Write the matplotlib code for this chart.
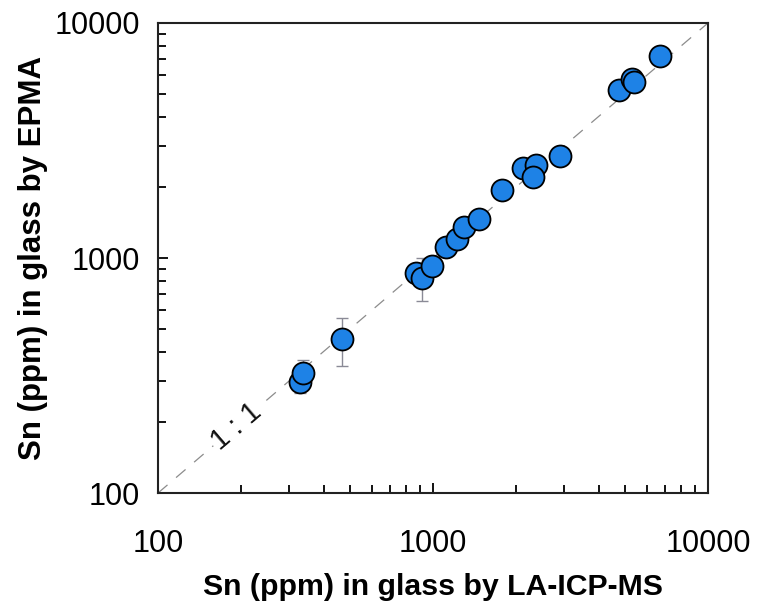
import numpy as np
import matplotlib
matplotlib.use("Agg")
import matplotlib.pyplot as plt

plt.rcParams["font.family"] = ["Liberation Sans", "DejaVu Sans"]

# Sn (ppm) by LA-ICP-MS (x) vs EPMA (y)
sn_la = [328, 337, 467, 867, 910, 989, 1115, 1225, 1297, 1473, 1777,
         2119, 2371, 2317, 2897, 4755, 5279, 5383, 6712]
sn_epma = [297, 324, 452, 861, 826, 925, 1117, 1205, 1352, 1462, 1946,
           2408, 2478, 2218, 2716, 5188, 5755, 5594, 7241]
# lower / upper EPMA error (ppm), 0 where no bar is visible
err_lo = [31, 0, 105, 60, 168, 0, 0, 0, 0, 0, 0, 0, 0, 0, 0, 0, 0, 0, 0]
err_hi = [0, 44, 103, 60, 174, 0, 0, 0, 0, 0, 0, 0, 0, 0, 0, 0, 0, 0, 0]

fig = plt.figure(figsize=(7.6, 6.05), dpi=100)
ax = fig.add_axes([0.2079, 0.1851, 0.7237, 0.7769])

# 1:1 reference line
ax.plot([100, 10000], [100, 10000], color="#8c8c8c", lw=0.9,
        dashes=(10, 9), zorder=1)

ax.errorbar(sn_la, sn_epma, yerr=[err_lo, err_hi], fmt="none",
            ecolor="#8a8a96", elinewidth=1.0, capsize=4, capthick=1.0,
            zorder=2)
ax.scatter(sn_la, sn_epma, s=250, c="#1E82E6", edgecolors="black",
           linewidths=1.3, zorder=3)

ax.set_xscale("log")
ax.set_yscale("log")
ax.set_xlim(100, 10000)
ax.set_ylim(100, 10000)

ax.set_xticks([100, 1000, 10000])
ax.set_yticks([100, 1000, 10000])
ax.set_xticklabels(["100", "1000", "10000"])
ax.set_yticklabels(["100", "1000", "10000"])
ax.tick_params(which="both", direction="in", top=False, right=False,
               width=1.3, labelsize=22)
ax.tick_params(which="major", length=7)
ax.tick_params(which="minor", length=6)
ax.tick_params(axis="x", which="major", pad=26)
ax.tick_params(axis="y", which="major", pad=13)
ax.xaxis.set_minor_formatter(matplotlib.ticker.NullFormatter())
ax.yaxis.set_minor_formatter(matplotlib.ticker.NullFormatter())
for sp in ax.spines.values():
    sp.set_linewidth(1.5)
    sp.set_color("#222222")

# rotate "1 : 1" along the diagonal in display space
p0 = ax.transData.transform((100, 100))
p1 = ax.transData.transform((10000, 10000))
ang = np.degrees(np.arctan2(p1[1] - p0[1], p1[0] - p0[0]))
ax.text(192, 192, "1 : 1", rotation=ang, rotation_mode="anchor",
        ha="center", va="center", fontsize=21, color="#111111",
        bbox=dict(fc="white", ec="none", pad=1), zorder=2)

ax.set_xlabel("Sn (ppm) in glass by LA-ICP-MS", fontsize=21.8,
              fontweight="bold", labelpad=10)
ax.set_ylabel("Sn (ppm) in glass by EPMA", fontsize=22.5,
              fontweight="bold", labelpad=5)

fig.savefig("out.png", dpi=100)
